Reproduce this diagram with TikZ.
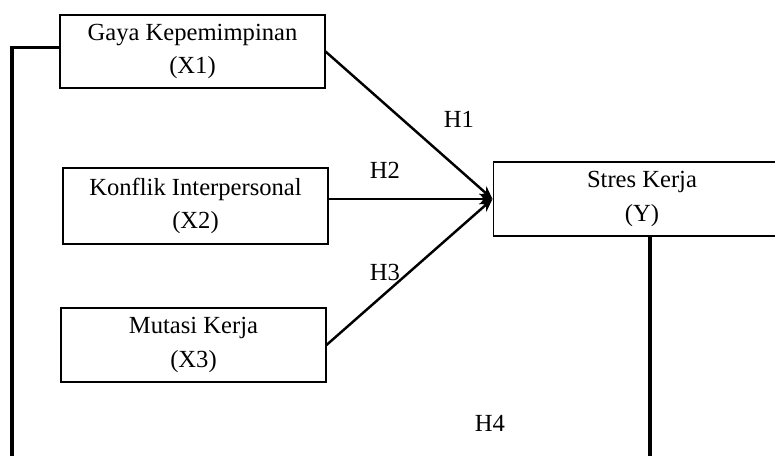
\documentclass[tikz,border=0pt]{standalone}
\usepackage{fontspec}
\setmainfont{Liberation Serif}
\usetikzlibrary{arrows.meta}
\tikzset{
  varbox/.style={draw, line width=0.6pt, rectangle, align=center, inner sep=0pt,
    font=\fontsize{14}{19}\selectfont},
  hlabel/.style={font=\fontsize{14}{17}\selectfont},
  path/.style={line width=1.4pt, -{Stealth[length=2.6mm,width=2.2mm]}},
}
\begin{document}
\begin{tikzpicture}[x=0.02cm, y=-0.02cm]
        \useasboundingbox (0,0) rectangle (775,456);
        \clip (0,0) rectangle (775,456);
        \node[varbox, minimum width=5.3cm, minimum height=1.46cm] (x1) at (192.5,51.5) {Gaya Kepemimpinan\\(X1)};
        \node[varbox, minimum width=5.3cm, minimum height=1.52cm] (x2) at (195.5,206) {Konflik Interpersonal\\(X2)};
        \node[varbox, minimum width=5.3cm, minimum height=1.48cm] (x3) at (193.5,345) {Mutasi Kerja\\(X3)};
        \node[varbox, minimum width=5.96cm, minimum height=1.48cm] (y) at (642,199) {Stres Kerja\\(Y)};
        \draw[path] (x1.east) -- (y.west);
        \draw[path] (x2.east |- y.west) -- (y.west);
        \draw[path] (x3.east) -- (y.west);
        \draw[line width=2pt] ([yshift=0.08cm]x1.west) -| (12,480) -| ([xshift=0.16cm]y.south);
        \node[hlabel] (h1) at (459,119) {H1};
        \node[hlabel] (h2) at (385,170) {H2};
        \node[hlabel] (h3) at (385,272) {H3};
        \node[hlabel] (h4) at (490,423) {H4};
      \end{tikzpicture}
\end{document}
